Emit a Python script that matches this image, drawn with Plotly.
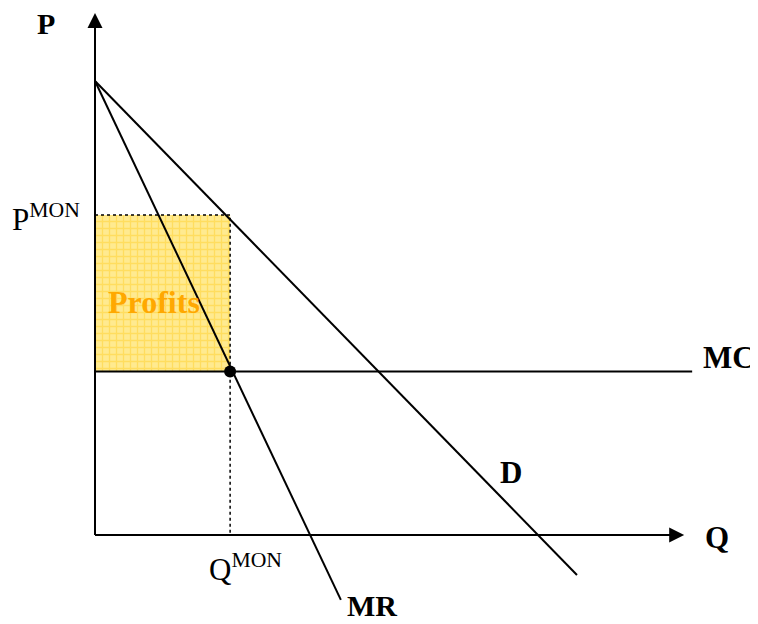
import plotly.graph_objects as go

# ---- data (Q on x, P on y) ----
demand_q = [0, 10.88]
demand_p = [10.0, -0.88]
mr_q = [0, 5.55]
mr_p = [10.0, -1.43]
mc_q = [0, 13.48]
mc_p = [3.6, 3.6]
q_mon = 3.05
p_mon = 7.05
axis_q = [0, 13.3]
axis_p = [0, 11.5]

# screen pixel -> data helpers (page body has an 8px margin)
def X(px):
    return (px - 95) / 44.3

def Y(py):
    return (535 - py) / 45.4

FONT = "Liberation Serif, Times New Roman, serif"

fig = go.Figure()

# Profit rectangle
fig.add_trace(go.Scatter(
    x=[0, q_mon, q_mon, 0, 0],
    y=[mc_p[0], mc_p[0], p_mon, p_mon, mc_p[0]],
    mode="lines", fill="toself", line=dict(width=0),
    fillcolor="#FFE170",
    fillpattern=dict(shape="+", size=7, solidity=0.35,
                     bgcolor="#FFEA90", fgcolor="#FFCF2E"),
    hoverinfo="skip", showlegend=False))

# dotted guides
fig.add_trace(go.Scatter(x=[0, q_mon, q_mon], y=[p_mon, p_mon, 0],
                         mode="lines", line=dict(color="black", width=1.5, dash="dot"),
                         showlegend=False, hoverinfo="skip"))

# axes
fig.add_trace(go.Scatter(x=[axis_q[0], axis_q[0]], y=[axis_p[0], axis_p[1] - 0.3], mode="lines",
                         line=dict(color="black", width=2), showlegend=False, hoverinfo="skip"))
fig.add_trace(go.Scatter(x=[axis_q[0], axis_q[1] - 0.3], y=[axis_p[0], axis_p[0]], mode="lines",
                         line=dict(color="black", width=2), showlegend=False, hoverinfo="skip"))

# MC
fig.add_trace(go.Scatter(x=mc_q, y=mc_p, mode="lines",
                         line=dict(color="black", width=2), showlegend=False))
# Demand
fig.add_trace(go.Scatter(x=demand_q, y=demand_p, mode="lines",
                         line=dict(color="black", width=2), showlegend=False))
# MR
fig.add_trace(go.Scatter(x=mr_q, y=mr_p, mode="lines",
                         line=dict(color="black", width=2), showlegend=False))
# Monopoly point
fig.add_trace(go.Scatter(x=[q_mon], y=[mc_p[0]], mode="markers",
                         marker=dict(color="black", size=12), showlegend=False))

# arrowheads on the axes
for tx, ty in [(axis_q[0], axis_p[1]), (axis_q[1], axis_p[0])]:
    fig.add_annotation(x=tx, y=ty, ax=axis_q[0], ay=axis_p[0], xref="x", yref="y",
                       axref="x", ayref="y", text=" ", showarrow=True, arrowhead=2,
                       arrowsize=1.5, arrowwidth=2, arrowcolor="black", standoff=0)

def label(txt, px, py, bold=True, color="black", size=31, xanchor="center"):
    t = f"<b>{txt}</b>" if bold else txt
    fig.add_annotation(x=X(px), y=Y(py), xref="x", yref="y", text=t, showarrow=False,
                       xanchor=xanchor, yanchor="middle",
                       font=dict(family=FONT, size=size, color=color))

label("P", 46, 23, size=30)
label("P<sup>MON</sup>", 10, 217, bold=False, size=31, xanchor="left")
label("Q<sup>MON</sup>", 207, 567, bold=False, size=31, xanchor="left")
label("MC", 729, 357, size=31)
label("Q", 717, 537, size=31)
label("D", 511, 472, size=31)
label("MR", 372, 605, size=30)
label("Profits", 154, 302, color="#FFA800", size=32)

fig.update_layout(
    width=750, height=616,
    margin=dict(l=0, r=0, t=0, b=0),
    paper_bgcolor="white", plot_bgcolor="white",
    xaxis=dict(range=[X(8), X(758)], visible=False, fixedrange=True),
    yaxis=dict(range=[Y(624), Y(8)], visible=False, fixedrange=True),
    showlegend=False,
)

fig.write_html("out.html")
